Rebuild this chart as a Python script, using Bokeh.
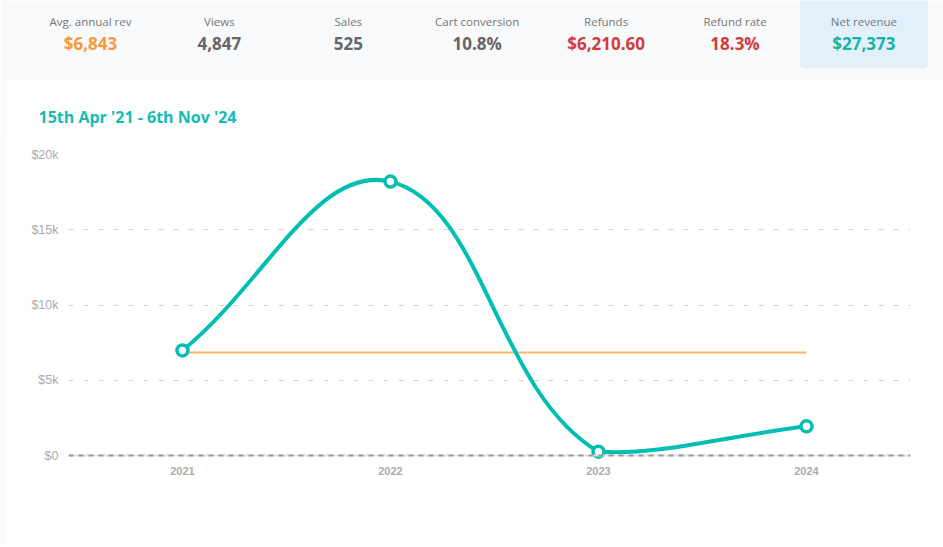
import numpy as np
from bokeh.plotting import figure
from bokeh.layouts import column, row
from bokeh.models import Range1d, FixedTicker, Span, Spacer
from bokeh.core.properties import value
from bokeh.embed import file_html
from bokeh.resources import INLINE

# ---------------- data ----------------
years = ["2021", "2022", "2023", "2024"]
revenue = [6980, 18200, 250, 1943]
y_ticks = [0, 5000, 10000, 15000, 20000]
y_tick_labels = ["$0", "$5k", "$10k", "$15k", "$20k"]

kpi_labels = ["Avg. annual rev", "Views", "Sales", "Cart conversion", "Refunds", "Refund rate", "Net revenue"]
kpi_values = ["$6,843", "4,847", "525", "10.8%", "$6,210.60", "18.3%", "$27,373"]
kpi_colors = ["#f5993a", "#666666", "#666666", "#666666", "#d43b3b", "#d43b3b", "#17b3a6"]
title_text = "15th Apr '21 - 6th Nov '24"

TEAL = "#00bfb2"
ORANGE = "#f9b46e"
BAND = "#f8f9fb"
FONT = "Open Sans"
AXFONT = "Liberation Sans"

W = 943
H_HEAD = 136
H_CHART = 409
STRIP = 6

# ---------------- header ----------------
head = figure(width=W, height=H_HEAD, x_range=Range1d(0, W), y_range=Range1d(H_HEAD, 0),
              output_backend="svg", toolbar_location=None, min_border=0)
head.frame_align = False
head.axis.visible = False
head.grid.visible = False
head.outline_line_color = None
head.background_fill_color = "white"
head.border_fill_color = "white"

head.quad(left=[0], right=[W], top=[0], bottom=[80], fill_color=BAND, line_color=None)
head.quad(left=[0], right=[STRIP], top=[80], bottom=[H_HEAD], fill_color=BAND, line_color=None)

n = len(kpi_labels)
x0, step = 90, 128.9
cx = [x0 + step * i for i in range(n)]
head.quad(left=[cx[-1] - 64], right=[cx[-1] + 64], top=[-10], bottom=[68],
          fill_color="#e1f0fa", line_color=None, border_radius=5)

head.text(x=cx, y=[21] * n, text=kpi_labels, text_font=value(FONT), text_font_size="11.5px",
          text_color="#777777", text_align="center", text_baseline="middle")
head.text(x=cx, y=[43] * n, text=kpi_values, text_font=value(FONT), text_font_size="17px",
          text_font_style="bold", text_color=kpi_colors, text_align="center", text_baseline="middle")

head.text(x=[38], y=[116], text=[title_text], text_font=value(FONT), text_font_size="16px",
          text_font_style="bold", text_color="#12bcb3", text_align="left", text_baseline="middle")

# ---------------- chart ----------------
xs = np.arange(len(years), dtype=float)
ys = np.array(revenue, dtype=float)
avg = float(np.mean(ys))

SX = 208.0               # px per category
SY = 301.0 / 20000.0     # px per unit
y_lo = -5.0 / SY

p = figure(width=W - STRIP, height=H_CHART, x_range=Range1d(-114 / SX, 3 + 104 / SX),
           y_range=Range1d(y_lo, 20000), output_backend="svg", toolbar_location=None,
           min_border_left=68 - STRIP, min_border_right=33, min_border_top=18, min_border_bottom=85)
p.frame_align = False
p.outline_line_color = None
p.background_fill_color = "white"
p.border_fill_color = "white"

p.xgrid.visible = False
p.ygrid.ticker = FixedTicker(ticks=y_ticks[1:])
p.ygrid.grid_line_color = "#d2d2d2"
p.ygrid.grid_line_dash = "5 10"
p.ygrid.grid_line_width = 1

p.yaxis.ticker = FixedTicker(ticks=y_ticks)
p.yaxis.major_label_overrides = {t: l for t, l in zip(y_ticks, y_tick_labels)}
p.yaxis.axis_line_color = None
p.yaxis.major_tick_line_color = None
p.yaxis.minor_tick_line_color = None
p.yaxis.major_label_standoff = 4
p.yaxis.major_label_text_font = AXFONT
p.yaxis.major_label_text_font_size = "12.5px"
p.yaxis.major_label_text_color = "#aaaaaa"

p.xaxis.ticker = FixedTicker(ticks=list(xs))
p.xaxis.major_label_overrides = {int(i): y for i, y in enumerate(years)}
p.xaxis.axis_line_color = None
p.xaxis.major_tick_line_color = None
p.xaxis.minor_tick_line_color = None
p.xaxis.major_label_standoff = 0
p.xaxis.major_label_text_font = AXFONT
p.xaxis.major_label_text_font_size = "11px"
p.xaxis.major_label_text_font_style = "bold"
p.xaxis.major_label_text_color = "#aaaaaa"

p.add_layout(Span(location=0, dimension="width", line_color="#e2e2e2", line_width=2))
p.add_layout(Span(location=0, dimension="width", line_color="#999999", line_width=2, line_dash="5 5"))

# average line
p.line([xs[0], xs[-1]], [avg, avg], line_color=ORANGE, line_width=2)

# Chart.js-like spline (tension 0.4) control points, computed in pixel space
t = 0.4
px = xs * SX
py = ys * SY
n_pts = len(xs)
cp_prev = np.zeros((n_pts, 2))
cp_next = np.zeros((n_pts, 2))
for i in range(n_pts):
    prv = (px[max(i - 1, 0)], py[max(i - 1, 0)])
    cur = (px[i], py[i])
    nxt = (px[min(i + 1, n_pts - 1)], py[min(i + 1, n_pts - 1)])
    d01 = np.hypot(cur[0] - prv[0], cur[1] - prv[1])
    d12 = np.hypot(nxt[0] - cur[0], nxt[1] - cur[1])
    s01 = d01 / (d01 + d12)
    s12 = d12 / (d01 + d12)
    fa, fb = t * s01, t * s12
    cp_prev[i] = (cur[0] - fa * (nxt[0] - prv[0]), cur[1] - fa * (nxt[1] - prv[1]))
    cp_next[i] = (cur[0] + fb * (nxt[0] - prv[0]), cur[1] + fb * (nxt[1] - prv[1]))
# cap to chart area
cp_prev[:, 1] = np.clip(cp_prev[:, 1], 0, 20000 * SY)
cp_next[:, 1] = np.clip(cp_next[:, 1], 0, 20000 * SY)

p.bezier(x0=xs[:-1], y0=ys[:-1], x1=xs[1:], y1=ys[1:],
         cx0=cp_next[:-1, 0] / SX, cy0=cp_next[:-1, 1] / SY,
         cx1=cp_prev[1:, 0] / SX, cy1=cp_prev[1:, 1] / SY,
         line_color=TEAL, line_width=4, line_cap="round")

p.scatter(xs, ys, size=11, fill_color="white", line_color=TEAL, line_width=3.5)

strip = Spacer(width=STRIP, height=H_CHART, styles={"background-color": BAND})
layout = column(head, row(strip, p, spacing=0), spacing=0)
open("out.html", "w").write(file_html(layout, INLINE))
